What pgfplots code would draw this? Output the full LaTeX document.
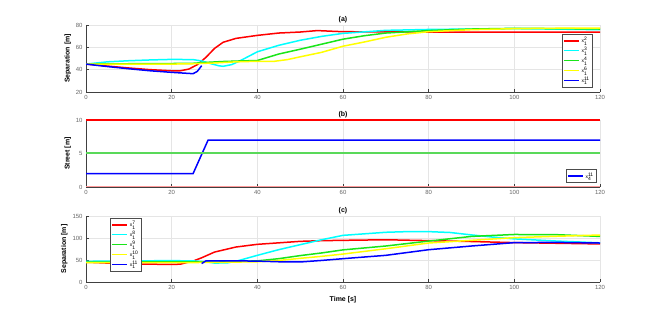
\documentclass[border=0pt]{standalone}
\usepackage{pgfplots}
\pgfplotsset{compat=1.18}
\usepackage{amsmath}
\usepackage{fontspec}
\setmainfont{Liberation Sans}
\definecolor{mred}{rgb}{1,0,0}
\definecolor{mcyan}{rgb}{0,1,1}
\definecolor{mgreen}{rgb}{0.1,0.9,0.1}
\definecolor{myellow}{rgb}{1,1,0}
\definecolor{mblue}{rgb}{0,0,1}
\definecolor{streetgreen}{rgb}{0.35,0.85,0.35}
\definecolor{streetred}{rgb}{1,0.6,0.6}
\pgfplotsset{
  mystyle/.style={
    scale only axis, width=514bp, xmin=0, xmax=120,
    xtick={0,20,...,120},
    axis x line*=bottom, axis y line*=left,
    axis line style={-, draw=black!75, line width=0.6bp},
    grid=major, major grid style={draw=black!10, line width=0.5bp},
    tick align=inside, major tick length=3bp,
    tick style={draw=black!75, line width=0.5bp},
    tick label style={font=\fontsize{6}{7}\selectfont, text=black!60},
    /pgf/number format/assume math mode=true,
    label style={font=\fontsize{7}{8}\selectfont\bfseries},
    title style={font=\fontsize{7}{8}\selectfont\bfseries, yshift=-7bp},
    every axis plot/.append style={line width=1.5bp},
    legend style={font=\fontsize{5}{6}\selectfont, draw=black!70, line width=0.6bp,
      fill=white, inner sep=1bp, row sep=-1bp, cells={anchor=west}},
    legend image code/.code={\draw[##1] (0bp,0bp) -- (15bp,0bp);},
    ylabel style={yshift=-2bp},
  }
}
\newcommand{\xl}[2]{$\text{x}^{\text{#2}}_{\text{#1}}$}
\begin{document}
\begin{tikzpicture}
\path[use as bounding box] (0,0) rectangle (664bp,317bp);
% (a)
\begin{axis}[mystyle, at={(86bp,225bp)}, anchor=south west, height=67bp,
  ymin=20, ymax=80, ytick={20,40,60,80}, ylabel={Separation [m]}, title={(a)},
  legend style={at={(1,1)}, anchor=north east, xshift=-7bp, yshift=-9bp}]
\addplot[mred] coordinates {(0,45)(5,43.2)(10,41.5)(15,40)(20,39)(22,39)(24,40.5)(26,44.5)(28,51)(30,59)(32,64.5)(35,68)(40,70.7)(45,72.8)(50,73.7)(54,75)(58,74.3)(60,74)(70,73.8)(80,73.7)(100,73.7)(120,73.7)};
\addplot[mcyan] coordinates {(0,45)(5,47)(10,48)(15,48.7)(20,49.2)(25,49)(27,47.8)(29,45.5)(31,43.5)(32,43)(34,44.5)(36,48)(38,52)(40,56)(45,61.8)(50,66.3)(55,69.8)(60,72.5)(70,75.2)(80,76)(90,76.4)(100,76.7)(110,76.3)(120,75.8)};
\addplot[mgreen] coordinates {(0,45)(10,45.3)(20,45.5)(25,45.7)(28,46.5)(32,47.3)(36,47.8)(40,48.2)(45,54)(50,58.3)(55,62.8)(60,67.3)(65,70.4)(70,72.8)(80,75)(90,76.4)(100,77)(110,76.8)(120,76.4)};
\addplot[myellow] coordinates {(0,45)(10,45)(20,45)(25,45.3)(30,46)(35,47)(40,47.5)(44,47.5)(47,49)(50,51.5)(55,55.5)(60,61)(65,64.8)(70,69)(75,72)(80,74)(90,75.8)(100,76.7)(110,77.1)(120,77.3)};
\addplot[mblue] coordinates {(0,45)(5,42.8)(10,40.8)(15,39)(20,37.6)(25,36.4)(26,38.5)(27,43.6)};
\legend{\xl{1}{2},\xl{1}{3},\xl{1}{4},\xl{1}{6},\xl{1}{11}}
\end{axis}
% (b)
\begin{axis}[mystyle, at={(86bp,130bp)}, anchor=south west, height=67bp,
  ymin=0, ymax=10, ytick={0,5,10}, ylabel={Street [m]}, title={(b)},
  legend style={at={(1,0)}, anchor=south east, xshift=-3bp, yshift=4bp}]
\addplot[mblue] coordinates {(0,2)(25,2)(28.5,7)(120,7)};
\addplot[streetgreen, line width=2bp, forget plot] coordinates {(0,5.0)(60,5.0)(120,5.0)};
\addplot[mred, forget plot] coordinates {(0,9.98)(120,9.98)};
\addplot[streetred, forget plot] coordinates {(0,0.02)(120,0.02)};
\legend{\xl{4}{11}}
\end{axis}
% (c)
\begin{axis}[mystyle, at={(86bp,35bp)}, anchor=south west, height=66bp,
  ymin=0, ymax=150, ytick={0,50,100,150}, ylabel={Separation [m]}, xlabel={Time [s]}, title={(c)},
  legend style={at={(0,1)}, anchor=north west, xshift=24bp, yshift=-2bp}]
\addplot[mred] coordinates {(0,45)(5,43)(10,41.5)(15,40.5)(20,40)(22,40.5)(25,47.6)(27,55)(30,68)(35,79.5)(40,85.6)(45,89)(50,92.4)(55,93.9)(60,94.7)(70,96)(80,94)(90,92)(100,89.5)(110,88)(120,86.5)};
\addplot[mcyan] coordinates {(0,47)(10,48)(20,48.5)(25,48)(28,46)(30,43)(33,43.5)(35,47)(40,60.6)(45,73.5)(50,84.8)(55,96)(60,106)(70,113)(75,114.5)(80,114.5)(85,112.5)(90,107)(95,102)(100,98)(110,93)(120,89)};
\addplot[mgreen] coordinates {(0,45)(10,45.5)(20,46)(25,46)(30,45)(35,47)(40,48)(45,53)(50,60)(55,66)(60,73)(70,81.8)(80,93)(90,103.6)(100,108)(110,107.5)(120,103.6)};
\addplot[myellow] coordinates {(0,44)(10,44)(20,44)(30,44.5)(40,46)(45,49)(50,53.8)(55,58.3)(60,63.5)(70,75.6)(80,88.6)(90,94.7)(100,100.8)(110,104)(120,106.8)};
\addplot[mblue] coordinates {(27,42)(28,48)(35,48)(40,47.5)(45,46)(50,45.5)(55,49)(60,53)(70,60.6)(80,73.4)(90,81.8)(100,89.5)(110,90)(120,88.6)};
\legend{\xl{1}{7},\xl{1}{8},\xl{1}{9},\xl{1}{10},\xl{1}{11}}
\end{axis}
\end{tikzpicture}
\end{document}
